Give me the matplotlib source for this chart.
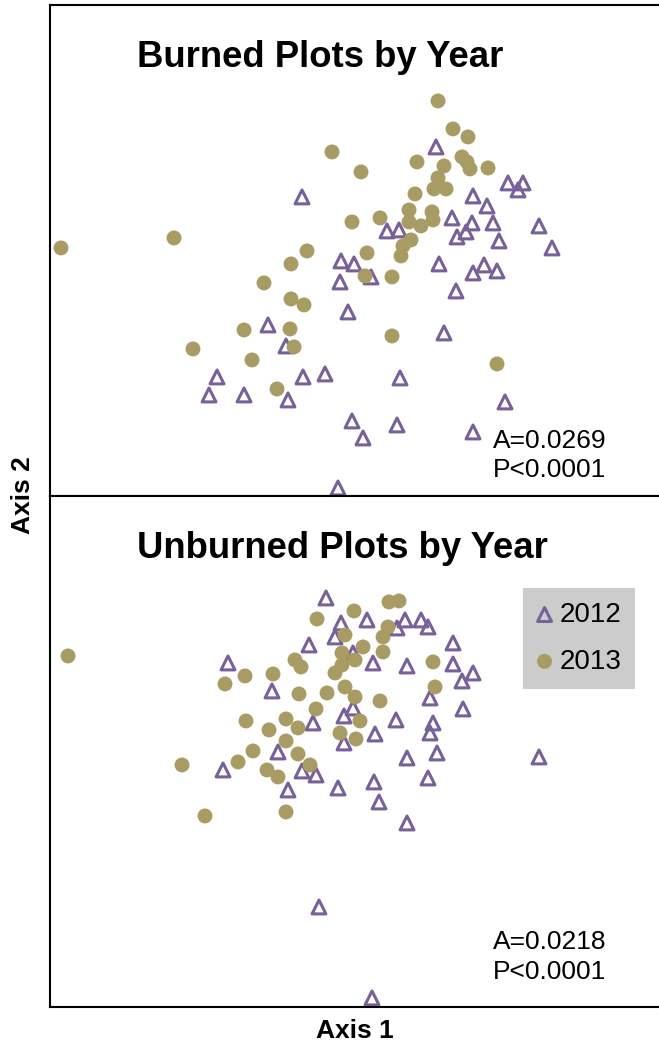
import matplotlib.pyplot as plt

plt.rcParams['font.family'] = ['Liberation Sans', 'DejaVu Sans']

# NMDS scores, burned plots
burned_2012_x = [-0.48, 0.86, 1.58, 1.73, 1.68, 1.23, 1.37, 0.37, 0.49, 1.02, 1.22,
                 1.43, 1.16, 1.07, 1.49, 1.89, 2.02, 0.89, 1.34, 1.23, 1.47, 1.06,
                 -0.09, 0.04, 0.21, -0.10, -0.02, 0.94, -0.82, -0.64, -1.33, -0.47,
                 -0.25, -1.41, -1.06, -0.62, 0.50, 1.55, 0.02, 0.13, 0.47, 1.23, -0.12]
burned_2012_y = [0.53, 1.03, 0.67, 0.67, 0.60, 0.54, 0.44, 0.19, 0.20, 0.32, 0.27,
                 0.27, 0.18, 0.13, 0.09, 0.24, 0.02, -0.14, -0.15, -0.23, -0.21, -0.41,
                 -0.11, -0.14, -0.27, -0.32, -0.62, -0.83, -0.75, -0.96, -1.27, -1.27,
                 -1.24, -1.45, -1.45, -1.50, -1.28, -1.52, -1.71, -1.88, -1.75, -1.82, -2.38]
burned_2013_x = [-2.89, -1.76, -0.18, 0.11, 0.88, 1.03, 1.18, 0.67, 1.12, 1.17, 1.20,
                 0.94, 1.38, 0.88, 0.84, 0.96, 0.65, 0.59, 0.82, 0.30, 0.02, 0.59,
                 0.83, 0.71, 0.61, 0.53, 0.51, -0.43, -0.59, 0.17, 0.15, 0.42, -0.86,
                 -0.59, -0.46, -1.06, -0.60, -0.56, -1.57, -0.98, -0.73, 0.42, 1.47]
burned_2013_y = [0.02, 0.12, 0.98, 0.78, 1.49, 1.21, 1.13, 0.88, 0.93, 0.88, 0.81,
                 0.84, 0.82, 0.72, 0.61, 0.61, 0.56, 0.40, 0.38, 0.32, 0.28, 0.28,
                 0.30, 0.24, 0.10, 0.04, -0.06, -0.01, -0.14, -0.03, -0.26, -0.27, -0.33,
                 -0.49, -0.55, -0.80, -0.79, -0.97, -0.99, -1.10, -1.39, -0.86, -1.14]

# NMDS scores, unburned plots
unburned_2012_x = [-0.24, -0.41, -1.22, -0.78, -0.37, -0.72, -1.27, -0.48, -0.34, -0.62,
                   -0.31, -0.09, 0.17, 0.55, 0.71, 0.78, 0.47, -0.15, 1.03, 0.03, 0.23,
                   0.57, 1.03, 1.23, 1.12, 0.80, 1.13, 0.03, -0.06, 0.46, 0.83, 0.80,
                   -0.06, 0.25, 0.87, 0.57, 1.89, -0.12, 0.24, 0.78, 0.29, 0.57, 0.22]
unburned_2012_y = [1.52, 1.05, 0.87, 0.59, 0.27, -0.02, -0.20, -0.21, -0.25, -0.40,
                   -1.57, 1.27, 1.30, 1.30, 1.30, 1.23, 1.22, 1.13, 1.07, 0.97, 0.87,
                   0.84, 0.86, 0.77, 0.69, 0.52, 0.41, 0.42, 0.34, 0.30, 0.27, 0.17,
                   0.07, 0.16, -0.03, -0.08, -0.07, -0.38, -0.32, -0.28, -0.52, -0.73, -2.48]
unburned_2013_x = [-2.82, -0.33, -0.55, -0.49, -1.05, -0.77, -1.25, -0.51, -0.23, -0.34,
                   -1.04, -0.64, -0.81, -0.52, -0.64, -0.97, -0.52, -1.12, -1.68, -0.83,
                   -0.72, -0.40, -1.45, -0.64, 0.39, 0.49, 0.04, 0.38, -0.05, 0.33, 0.33,
                   0.13, -0.08, 0.05, 0.83, -0.15, -0.08, 0.85, -0.05, 0.05, 0.30, 0.10,
                   -0.10, 0.06]
unburned_2013_y = [0.94, 1.31, 0.90, 0.83, 0.74, 0.76, 0.66, 0.56, 0.57, 0.41,
                   0.29, 0.31, 0.20, 0.22, 0.09, -0.01, -0.04, -0.12, -0.15, -0.20,
                   -0.27, -0.15, -0.66, -0.62, 1.48, 1.49, 1.39, 1.23, 1.15, 1.13, 0.98,
                   1.03, 0.97, 0.90, 0.88, 0.77, 0.85, 0.63, 0.63, 0.53, 0.49, 0.29,
                   0.17, 0.11]

years = ['2012', '2013']
stats_burned = 'A=0.0269\nP<0.0001'
stats_unburned = 'A=0.0218\nP<0.0001'

purple = '#78609b'
tan = '#a89b63'

fig = plt.figure(figsize=(6.59, 10.45), dpi=100)
ax_top = fig.add_axes([0.0759, 0.5254, 0.9241, 0.4699])
ax_bot = fig.add_axes([0.0759, 0.0364, 0.9241, 0.4890])

panels = [
    (ax_top, burned_2012_x, burned_2012_y, burned_2013_x, burned_2013_y,
     'Burned Plots by Year', stats_burned, (-2.46, 2.45), 0.8737, 0.0825),
    (ax_bot, unburned_2012_x, unburned_2012_y, unburned_2013_x, unburned_2013_y,
     'Unburned Plots by Year', stats_unburned, (-2.57, 2.54), 0.8787, 0.0978),
]

for ax, x12, y12, x13, y13, title, stats, ylim, ty, sy in panels:
    ax.scatter(x12, y12, marker='^', s=100, facecolors='none', edgecolors=purple,
               linewidths=2.2, label=years[0], zorder=2)
    ax.scatter(x13, y13, marker='o', s=115, color=tan, edgecolors='none',
               label=years[1], zorder=3)
    ax.set_xlim(-3.0, 3.09)
    ax.set_ylim(*ylim)
    ax.set_xticks([])
    ax.set_yticks([])
    ax.spines['right'].set_visible(False)
    for side in ['left', 'top', 'bottom']:
        ax.spines[side].set_linewidth(1.5)
    ax.text(0.1429, ty, title, transform=ax.transAxes, ha='left', va='baseline',
            fontsize=26.3, fontweight='bold')
    ax.text(0.7274, sy, stats, transform=ax.transAxes, ha='left', va='center',
            fontsize=19, linespacing=1.3)

leg = ax_bot.legend(loc='upper left', bbox_to_anchor=(0.7767, 0.820), fontsize=20,
                    frameon=True, fancybox=False, framealpha=1, facecolor='#cccccc',
                    edgecolor='none', handlelength=0.55, handletextpad=0.25,
                    labelspacing=0.75, borderpad=0.5, borderaxespad=0)

fig.text(0.0349, 0.5263, 'Axis 2', rotation=90, ha='center', va='center',
         fontsize=19, fontweight='bold')
fig.text(0.5387, 0.0134, 'Axis 1', ha='center', va='center',
         fontsize=19, fontweight='bold')

fig.savefig('out.png', dpi=100)
